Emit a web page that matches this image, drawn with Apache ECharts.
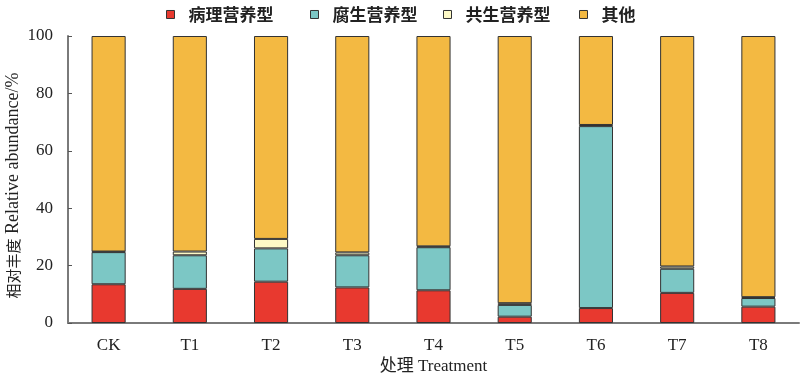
<!DOCTYPE html>
<html><head><meta charset="utf-8">
<script src="https://cdn.jsdelivr.net/npm/echarts@6/dist/echarts.min.js"></script>
<style>html,body{margin:0;padding:0;background:#fff}#c{width:800px;height:374px}</style>
</head><body><div id="c"></div>
<script>
const categories = ['CK','T1','T2','T3','T4','T5','T6','T7','T8'];
const pathotroph = [13.5, 11.9, 14.4, 12.4, 11.4, 2.2, 5.2, 10.5, 5.7];
const saprotroph = [11.2, 11.7, 11.6, 11.2, 15.0, 4.1, 63.4, 8.4, 3.0];
const symbiotroph = [0.2, 1.3, 3.3, 1.0, 0.3, 0.6, 0.4, 0.8, 0.3];
const others = [75.1, 75.1, 70.7, 75.4, 73.3, 93.1, 31.0, 80.3, 91.0];
const seriesNames = ['病理营养型','腐生营养型','共生营养型','其他'];
const yTicks = [0,20,40,60,80,100];

const serif = "'Liberation Serif','Noto Sans CJK SC',serif";
const colors = ['#E8392F','#7CC7C5','#FDF9C6','#F3B942'];
const datas = [pathotroph, saprotroph, symbiotroph, others];
const legendLeft = [161, 305, 438, 574];

const chart = echarts.init(document.getElementById('c'));
chart.setOption({
  animation:false,
  legend: seriesNames.map((n,i)=>({
    top:1, left:legendLeft[i],
    itemWidth:8, itemHeight:8,
    textStyle:{fontFamily:"'Noto Sans CJK SC',sans-serif", fontSize:17, fontWeight:'bold', color:'#222', padding:[0,0,0,9]},
    data:[{name:n, icon:'rect', itemStyle:{color:colors[i], borderColor:'#333', borderWidth:1}}]
  })),
  grid:{left:68, right:1, top:36, bottom:51, containLabel:false, outerBoundsMode:'none'},
  xAxis:{
    type:'category', data:categories,
    axisLine:{lineStyle:{color:'#7a7a7a', width:2}},
    axisTick:{inside:true, length:4, lineStyle:{color:'#555'}},
    axisLabel:{fontFamily:serif, fontSize:17, color:'#222', margin:14},
    name:'处理 Treatment', nameLocation:'middle', nameGap:35, nameMoveOverlap:false,
    nameTextStyle:{fontFamily:serif, fontSize:17, color:'#222'}
  },
  yAxis:{
    type:'value', min:0, max:100, interval:20,
    axisLine:{show:true, lineStyle:{color:'#7a7a7a', width:2}},
    axisTick:{show:true, inside:true, length:4, lineStyle:{color:'#555'}},
    splitLine:{show:false},
    axisLabel:{fontFamily:serif, fontSize:17, color:'#222', margin:15,
      formatter:v=>yTicks.includes(v)?String(v):''},
    name:'{c|相对丰度} {l|Relative abundance/%}', nameLocation:'middle', nameGap:46, nameRotate:90,
    nameMoveOverlap:false,
    nameTextStyle:{fontFamily:serif, fontSize:17.5, color:'#222', padding:[0,12,0,0],
      rich:{c:{fontFamily:"'Noto Sans CJK SC',sans-serif", fontSize:15, color:'#222'},
            l:{fontFamily:serif, fontSize:18, color:'#222'}}}
  },
  series: seriesNames.map((n,i)=>({
    name:n, type:'bar', stack:'total', data:datas[i], barWidth:'42%',
    itemStyle:{color:colors[i], borderColor:'#333', borderWidth:1}
  }))
});
</script></body></html>
